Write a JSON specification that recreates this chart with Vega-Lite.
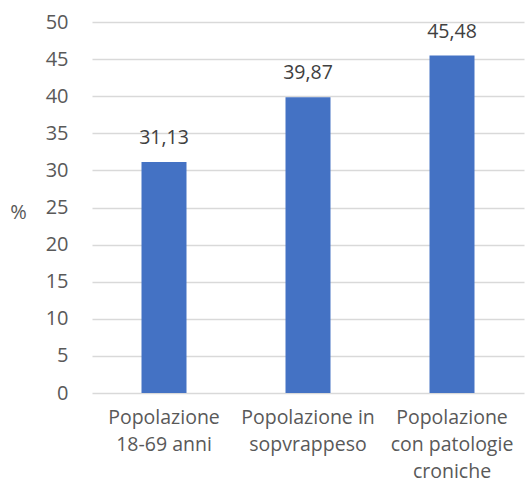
{
  "$schema": "https://vega.github.io/schema/vega-lite/v6.json",
  "autosize": "none",
  "width": 432,
  "height": 371,
  "padding": {"left": 92, "top": 22, "right": 1, "bottom": 97},
  "background": "white",
  "data": {"values": [
    {"categoria": "Popolazione|18-69 anni", "valore": 31.13},
    {"categoria": "Popolazione in|sopvrappeso", "valore": 39.87},
    {"categoria": "Popolazione|con patologie|croniche", "valore": 45.48}
  ]},
  "encoding": {
    "x": {"field": "categoria", "type": "nominal", "sort": null,
      "scale": {"paddingInner": 0.6875, "paddingOuter": 0.34375},
      "axis": {"title": null, "labelAngle": 0, "domain": false, "ticks": false,
        "labelExpr": "split(datum.label, '|')", "labelLineHeight": 27,
        "labelPadding": 15, "labelFont": "Open Sans", "labelFontSize": 19.5, "labelColor": "#595959"}},
    "y": {"field": "valore", "type": "quantitative",
      "scale": {"domain": [0, 50]},
      "axis": {"values": [0,5,10,15,20,25,30,35,40,45,50], "domain": false, "ticks": false,
        "gridColor": "#d9d9d9", "gridWidth": 1.3, "labelPadding": 24,
        "labelFont": "Open Sans", "labelFontSize": 20, "labelColor": "#595959",
        "title": "%", "titleAngle": 0, "titleX": -74, "titleY": 190,
        "titleFont": "Open Sans", "titleFontSize": 20, "titleFontWeight": "normal", "titleColor": "#595959",
        "titleBaseline": "middle", "titleAlign": "center"}}
  },
  "layer": [
    {"mark": {"type": "bar", "color": "#4472c4"}},
    {"mark": {"type": "text", "baseline": "alphabetic", "dy": -18, "font": "Open Sans", "fontSize": 19.5, "color": "#404040"},
     "encoding": {"text": {"field": "valore", "type": "quantitative", "format": ".2f"}}}
  ],
  "config": {
    "view": {"stroke": null},
    "locale": {"number": {"decimal": ",", "thousands": ".", "grouping": [3], "currency": ["", " €"]}}
  }
}
